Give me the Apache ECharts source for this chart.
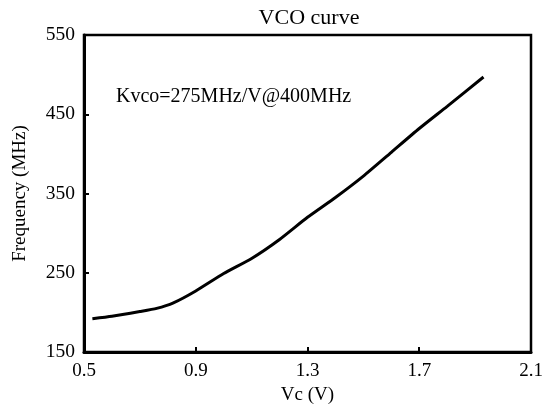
<!DOCTYPE html>
<html>
<head>
<meta charset="utf-8">
<script src="https://cdn.jsdelivr.net/npm/echarts@6/dist/echarts.min.js"></script>
<style>
  html, body { margin: 0; padding: 0; background: #fff; }
  #chart { width: 554px; height: 409px; }
</style>
</head>
<body>
<div id="chart"></div>
<script>
// values
const vc = [0.53, 0.6, 0.7, 0.76, 0.82, 0.9, 1.0, 1.1, 1.2, 1.3, 1.4, 1.5, 1.6, 1.7, 1.8, 1.93];
const freq = [192, 195, 201, 205, 212, 227, 249, 268, 292, 320, 345, 372, 402, 432, 460, 497];
const xTicks = [0.5, 0.9, 1.3, 1.7, 2.1];
const yTicks = [150, 250, 350, 450, 550];

const FONT = "Liberation Serif";
const chart = echarts.init(document.getElementById("chart"));

chart.setOption({
  backgroundColor: "#fff",
  animation: false,
  textStyle: { fontFamily: FONT, color: "#000" },
  title: {
    text: "VCO curve",
    left: 304,
    textAlign: "center",
    top: 2,
    textStyle: { fontFamily: FONT, fontSize: 22, fontWeight: "normal", color: "#000" },
  },
  grid: {
    left: 84,
    right: 23,
    top: 35,
    bottom: 57,
    outerBoundsMode: "none",
    show: true,
    borderColor: "#000",
    borderWidth: 2.5,
  },
  graphic: [
    {
      type: "text",
      left: 116,
      top: 87,
      style: { text: "Kvco=275MHz/V@400MHz", font: "20px " + FONT, fill: "#000" },
    },
  ],
  xAxis: {
    type: "value",
    min: 0.5,
    max: 2.1,
    name: "Vc (V)",
    nameLocation: "middle",
    nameGap: 33,
    nameTextStyle: { fontFamily: FONT, fontSize: 19, color: "#000" },
    axisLine: { show: true, lineStyle: { color: "#000", width: 3 } },
    axisTick: { show: true, inside: true, length: 5, lineStyle: { color: "#000", width: 2 }, customValues: xTicks },
    axisLabel: { fontFamily: FONT, fontSize: 19, color: "#000", margin: 10, customValues: xTicks, formatter: (v) => v.toFixed(1) },
    splitLine: { show: false },
  },
  yAxis: {
    type: "value",
    min: 150,
    max: 550,
    name: "Frequency (MHz)",
    nameLocation: "middle",
    nameGap: 54,
    nameTextStyle: { fontFamily: FONT, fontSize: 19, color: "#000" },
    axisLine: { show: true, lineStyle: { color: "#000", width: 3 } },
    axisTick: { show: true, inside: true, length: 5, lineStyle: { color: "#000", width: 2 }, customValues: yTicks },
    axisLabel: { fontFamily: FONT, fontSize: 19.5, color: "#000", margin: 9, customValues: yTicks },
    splitLine: { show: false },
  },
  series: [
    {
      type: "line",
      data: vc.map((x, i) => [x, freq[i]]),
      showSymbol: false,
      smooth: 0.2,
      lineStyle: { color: "#000", width: 3 },
    },
  ],
});
</script>
</body>
</html>
